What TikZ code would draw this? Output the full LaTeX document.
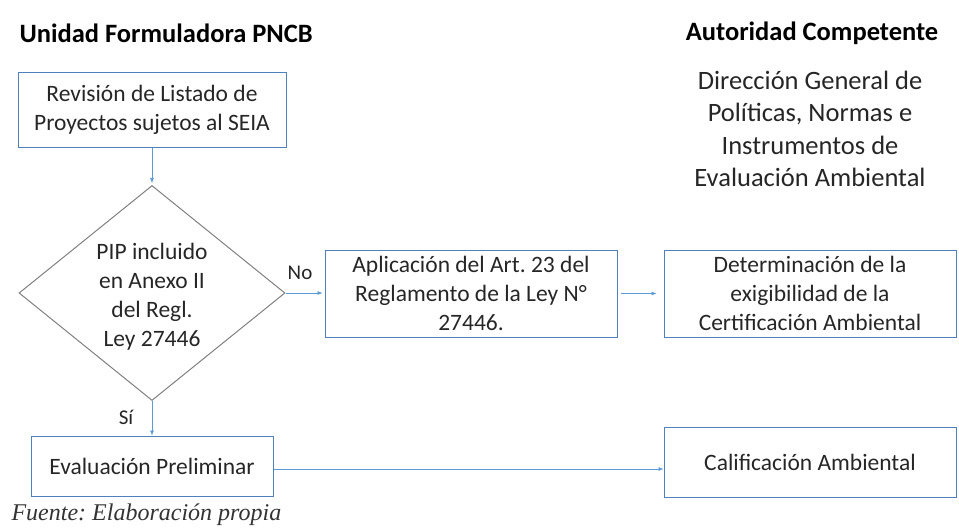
\documentclass[tikz,border=0pt]{standalone}
\usepackage{fontspec}
\setmainfont{Carlito}
\newfontfamily\capfont{Liberation Serif}
\usetikzlibrary{shapes.geometric,arrows.meta}
\definecolor{boxblue}{HTML}{4F81BD}
\definecolor{arrblue}{HTML}{5B9BD5}
\definecolor{diagrey}{HTML}{808080}
\frenchspacing
\begin{document}
\begin{tikzpicture}[x=1pt,y=-1pt,
  every node/.style={font=\fontsize{23.5}{29}\selectfont, text=black!85},
  procbox/.style={draw=boxblue, line width=1pt, rectangle, inner sep=0pt, align=center},
  decbox/.style={draw=diagrey, line width=1pt, diamond, inner sep=0pt},
  arr/.style={draw=arrblue, line width=0.6pt, -{Latex[length=5pt,width=4pt]}},
  ttl/.style={font=\bfseries\fontsize{26.5}{30}\selectfont, text=black},
  lbl/.style={font=\fontsize{21}{24}\selectfont}]
\useasboundingbox (0,0) rectangle (959,528);
\node[ttl, anchor=west] (t1) at (16,33) {Unidad Formuladora PNCB};
\node[ttl] (t2) at (812,33) {Autoridad Competente};
\node[align=center, font=\fontsize{26.5}{32.3}\selectfont] (dg) at (810,129) {Dirección General de\\Políticas, Normas e\\Instrumentos de\\Evaluación Ambiental};
\node[procbox, minimum width=268pt, minimum height=75pt] (b1) at (152,109.5) {Revisión de Listado de\\Proyectos sujetos al SEIA};
\node[decbox, minimum width=266pt, minimum height=215pt] (dia) at (152,293) {};
\node[align=center, inner sep=0pt] (diatext) at (152,297) {PIP incluido\\en Anexo II\\del Regl.\\Ley 27446};
\node[procbox, minimum width=292pt, minimum height=87pt] (b2) at (471,293.5) {Aplicación del Art. 23 del\\Reglamento de la Ley N°\\27446.};
\node[procbox, minimum width=292pt, minimum height=87pt] (b3) at (810,293.5) {Determinación de la\\exigibilidad de la\\Certificación Ambiental};
\node[procbox, minimum width=242pt, minimum height=60pt] (b4) at (152,466) {Evaluación Preliminar};
\node[procbox, minimum width=292pt, minimum height=70pt] (b5) at (810,462) {Calificación Ambiental};
\node[lbl] (no) at (300,273) {No};
\node[lbl] (si) at (126,417) {Sí};
\node[anchor=west, font=\capfont\itshape\fontsize{24}{26}\selectfont, text=black!80] (cap) at (8,515) {Fuente: Elaboración propia};
\draw[arr, shorten >=2pt] (b1) -- (dia);
\draw[arr, shorten >=2pt] (dia.east) -- (b2.west |- dia.east);
\draw[arr, shorten <=3pt, shorten >=7pt] (b2) -- (b3);
\draw[arr] (dia) -- (b4);
\draw[arr] (b4.east |- 0,469) -- (b5.west |- 0,469);
\end{tikzpicture}
\end{document}
